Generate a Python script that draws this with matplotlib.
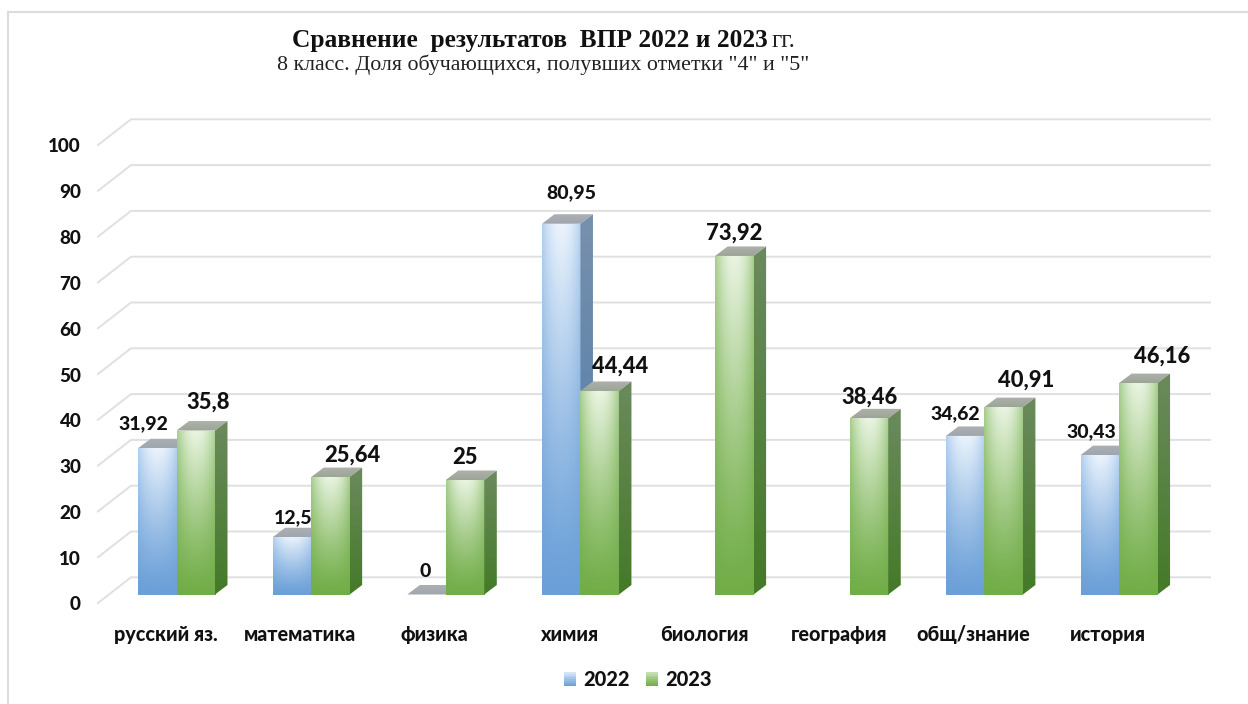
import numpy as np
import matplotlib
matplotlib.use("Agg")
import matplotlib.pyplot as plt
from matplotlib.patches import Polygon, Rectangle, Patch
from matplotlib.transforms import ScaledTranslation
from matplotlib.legend_handler import HandlerBase
from matplotlib.colors import to_rgb

categories = ["русский яз.", "математика", "физика", "химия", "биология",
              "география", "общ/знание", "история"]
values_2022 = [31.92, 12.5, 0, 80.95, np.nan, np.nan, 34.62, 30.43]
values_2023 = [35.8, 25.64, 25, 44.44, 73.92, 38.46, 40.91, 46.16]
labels_2022 = ["31,92", "12,5", "0", "80,95", "", "", "34,62", "30,43"]
labels_2023 = ["35,8", "25,64", "25", "44,44", "73,92", "38,46", "40,91", "46,16"]
y_ticks = list(range(0, 101, 10))
series_names = ["2022", "2023"]

# label offsets from bar-top centre, in pixels (right, up)
offs_2022 = [(-14, 25), (1, 20), (-1, 23), (10, 31), (0, 0), (0, 0), (-10, 22), (-8, 23)]
offs_2023 = [(12, 28), (22, 22), (0, 23), (20, 25), (0, 23), (0, 21), (22, 27), (24, 27)]

W, H = 1248, 704
AX_L, AX_R, AX_T, AX_B = 98, 1210, 110, 606
X0_PX, X_SCALE = 176.5, 134.65
Y0_PX, Y_SCALE = 594.5, 4.58
BAR_PX = 38.5
DEPTH_X_PX, DEPTH_Y_PX = 12.5, 9.5

plt.rcParams["font.family"] = ["Lato", "DejaVu Sans"]
fig = plt.figure(figsize=(W / 100, H / 100), dpi=100, facecolor="white")
ax = fig.add_axes([AX_L / W, 1 - AX_B / H, (AX_R - AX_L) / W, (AX_B - AX_T) / H])
xlim = ((AX_L - X0_PX) / X_SCALE, (AX_R - X0_PX) / X_SCALE)
ylim = ((Y0_PX - AX_B) / Y_SCALE, (Y0_PX - AX_T) / Y_SCALE)
for s in ax.spines.values():
    s.set_visible(False)
ax.patch.set_alpha(0)

bw = BAR_PX / X_SCALE
dx = DEPTH_X_PX / X_SCALE
dy = DEPTH_Y_PX / Y_SCALE
xs = np.arange(len(categories))

# frame
fig.add_artist(Rectangle((8 / W, -0.05), 1.1, 1 - 12 / H + 0.05, transform=fig.transFigure,
                         facecolor="none", edgecolor="#dcdcdc", linewidth=1.5))

# wall gridlines and the floor diagonals
wall_dy = 17.2 / Y_SCALE
front_dy = -8.5 / Y_SCALE
x_back = (131 - X0_PX) / X_SCALE
for v in y_ticks:
    ax.plot([xlim[0], x_back, xlim[1]], [v + front_dy, v + wall_dy, v + wall_dy],
            color="#e0e0e0", lw=1.4, zorder=1, solid_joinstyle="miter", clip_on=False)


def mix(a, b, t):
    a, b = np.array(to_rgb(a)), np.array(to_rgb(b))
    return a[None, None, :] * (1 - t[..., None]) + b[None, None, :] * t[..., None]


def front_grad(bottom, top_edge, top_centre, n=80):
    u = np.linspace(0, 1, n)
    t = np.linspace(0, 1, n)
    U, T = np.meshgrid(u, t)
    prof = 1 - np.abs(2 * U - 1) ** 2
    top = mix(top_edge, top_centre, prof)
    bot = np.array(to_rgb(bottom))[None, None, :]
    w = (T ** 1.2)[..., None]
    return bot * (1 - w) + top * w


def vert_grad(bottom, top, n=40):
    t = np.linspace(0, 1, n)[:, None]
    return mix(bottom, top, t)


def paint(img, extent, patch, z):
    im = ax.imshow(img, extent=extent, origin="lower", aspect="auto",
                   interpolation="bilinear", zorder=z)
    im.set_clip_path(patch)


styles = {
    "2022": dict(front=("#6a9fd8", "#b4d0ee", "#eaf3fc"), side=("#4a7aa8", "#7790ad"),
                 top=("#a0a6ae", "#acb0b4")),
    "2023": dict(front=("#71ad47", "#a6cd8d", "#e9f4e1"), side=("#447a28", "#6b8a5c"),
                 top=("#9ca596", "#aeb1ac")),
}


def draw_series(x, vals, st, base_z):
    bars = ax.bar(x, vals, bw, color="none", edgecolor="none", zorder=base_z)
    for i, (rect, v) in enumerate(zip(bars, vals)):
        if np.isnan(v):
            continue
        z = base_z + i * 0.01
        x0, x1 = rect.get_x(), rect.get_x() + rect.get_width()
        top_poly = Polygon([(x0, v), (x1, v), (x1 + dx, v + dy), (x0 + dx, v + dy)],
                           closed=True, fc="none", ec="none", zorder=z)
        ax.add_patch(top_poly)
        paint(vert_grad(*st["top"]), (x0, x1 + dx, v, v + dy), top_poly, z)
        if v > 0:
            paint(front_grad(*st["front"]), (x0, x1, 0, v), rect, z)
            side = Polygon([(x1, 0), (x1 + dx, dy), (x1 + dx, v + dy), (x1, v)],
                           closed=True, fc="none", ec="none", zorder=z)
            ax.add_patch(side)
            paint(vert_grad(*st["side"]), (x1, x1 + dx, 0, v + dy), side, z)
    return bars


draw_series(xs - bw / 2, np.array(values_2022, float), styles["2022"], 2)
draw_series(xs + bw / 2, np.array(values_2023, float), styles["2023"], 3)

PX = 0.72
for x, v, lab, off in zip(xs - bw / 2, values_2022, labels_2022, offs_2022):
    if lab:
        ax.annotate(lab, (x, v), xytext=(off[0] * PX, off[1] * PX), textcoords="offset points",
                    ha="center", va="center", fontsize=14, fontweight="black",
                    color="#111111", zorder=6)
for x, v, lab, off in zip(xs + bw / 2, values_2023, labels_2023, offs_2023):
    ax.annotate(lab, (x, v), xytext=(off[0] * PX, off[1] * PX), textcoords="offset points",
                ha="center", va="center", fontsize=15.8, fontweight="black",
                color="#111111", zorder=6)

ax.set_xlim(*xlim)
ax.set_ylim(*ylim)

ax.set_yticks(y_ticks)
ax.set_yticklabels([str(v) for v in y_ticks], fontsize=13.6, fontweight="black", color="#111111")
ax.tick_params(axis="y", length=0, pad=12.3)
ymove = ScaledTranslation(0, -9 / 100, fig.dpi_scale_trans)
for lb in ax.get_yticklabels():
    lb.set_transform(lb.get_transform() + ymove)

ax.set_xticks(xs)
ax.set_xticklabels(categories, fontsize=14.2, fontweight="black", color="#111111")
ax.tick_params(axis="x", length=0, pad=14)
xmove = ScaledTranslation(-11 / 100, 0, fig.dpi_scale_trans)
for lb in ax.get_xticklabels():
    lb.set_transform(lb.get_transform() + xmove)


class GradHandler(HandlerBase):
    def __init__(self, bottom, top):
        super().__init__()
        self.bottom, self.top = to_rgb(bottom), to_rgb(top)

    def create_artists(self, legend, orig, xd, yd, width, height, fontsize, trans):
        n = 8
        arts = []
        for k in range(n):
            t = k / (n - 1)
            c = tuple(np.array(self.bottom) * (1 - t) + np.array(self.top) * t)
            arts.append(Rectangle((xd, yd + height * k / n), width, height / n + 0.2,
                                  fc=c, ec="none", transform=trans))
        return arts


h1, h2 = Patch(label=series_names[0]), Patch(label=series_names[1])
leg = fig.legend(handles=[h1, h2], loc="center", bbox_to_anchor=(638 / W, 1 - 680 / H),
                 ncol=2, frameon=False, handlelength=0.62, handleheight=0.72,
                 handletextpad=0.36, columnspacing=0.8,
                 handler_map={h1: GradHandler("#6a9fd8", "#d5e5f6"),
                              h2: GradHandler("#71ad47", "#c5dfb3")},
                 prop=dict(family="Lato", weight="black", size=14.4))
for t in leg.get_texts():
    t.set_color("#111111")

# title, in two weights
SERIF = "Liberation Serif"
fig.text(292 / W, 1 - 40.5 / H, "Сравнение  результатов  ВПР 2022 и 2023", family=SERIF,
         fontweight="bold", fontsize=18.3, color="#111111", ha="left", va="center")
fig.text(772 / W, 1 - 41 / H, "гг.", family=SERIF, fontsize=18, color="#222222",
         ha="left", va="center")
fig.text(277 / W, 1 - 65 / H, "8 класс. Доля обучающихся, полувших отметки \"4\" и \"5\"",
         family=SERIF, fontsize=15.8, color="#222222", ha="left", va="center")

fig.savefig("out.png", dpi=100)
